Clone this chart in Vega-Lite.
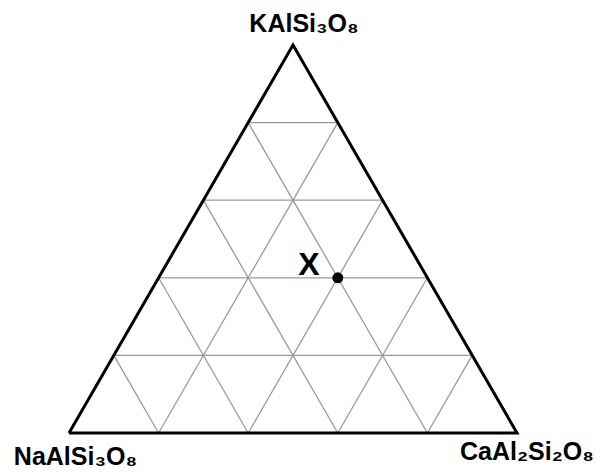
{
  "$schema": "https://vega.github.io/schema/vega-lite/v6.json",
  "width": 596,
  "height": 475,
  "autosize": "none",
  "padding": 0,
  "background": "white",
  "config": {"view": {"stroke": null}},
  "datasets": {
    "grid": [
      {"x": 0.1, "y": 0.2, "x2": 0.9, "y2": 0.2},
      {"x": 0.2, "y": 0.4, "x2": 0.8, "y2": 0.4},
      {"x": 0.3, "y": 0.6, "x2": 0.7, "y2": 0.6},
      {"x": 0.4, "y": 0.8, "x2": 0.6, "y2": 0.8},
      {"x": 0.2, "y": 0, "x2": 0.6, "y2": 0.8},
      {"x": 0.4, "y": 0, "x2": 0.7, "y2": 0.6},
      {"x": 0.6, "y": 0, "x2": 0.8, "y2": 0.4},
      {"x": 0.8, "y": 0, "x2": 0.9, "y2": 0.2},
      {"x": 0.8, "y": 0, "x2": 0.4, "y2": 0.8},
      {"x": 0.6, "y": 0, "x2": 0.3, "y2": 0.6},
      {"x": 0.4, "y": 0, "x2": 0.2, "y2": 0.4},
      {"x": 0.2, "y": 0, "x2": 0.1, "y2": 0.2}
    ],
    "edges": [
      {"i": 0, "x": 0, "y": 0},
      {"i": 1, "x": 1, "y": 0},
      {"i": 2, "x": 0.5, "y": 1},
      {"i": 3, "x": 0, "y": 0}
    ],
    "points": [
      {"x": 0.6, "y": 0.4, "name": "X"}
    ],
    "labels": [
      {"x": 0.5246, "y": 1.0335, "text": "KAlSi₃O₈"},
      {"x": 0.0145, "y": -0.0825, "text": "NaAlSi₃O₈"},
      {"x": 1.0223, "y": -0.0696, "text": "CaAl₂Si₂O₈"}
    ]
  },
  "layer": [
    {
      "data": {"name": "grid"},
      "mark": {"type": "rule", "color": "#9a9a9a", "strokeWidth": 1.3},
      "encoding": {
        "x": {"field": "x", "type": "quantitative", "scale": {"domain": [-0.15402, 1.17634], "nice": false, "zero": false}, "axis": null},
        "y": {"field": "y", "type": "quantitative", "scale": {"domain": [-0.10825, 1.11598], "nice": false, "zero": false}, "axis": null},
        "x2": {"field": "x2"},
        "y2": {"field": "y2"}
      }
    },
    {
      "data": {"name": "edges"},
      "mark": {"type": "line", "color": "black", "strokeWidth": 3, "strokeJoin": "miter"},
      "encoding": {
        "x": {"field": "x", "type": "quantitative"},
        "y": {"field": "y", "type": "quantitative"},
        "order": {"field": "i", "type": "quantitative"}
      }
    },
    {
      "data": {"name": "points"},
      "mark": {"type": "circle", "color": "black", "opacity": 1, "size": 120},
      "encoding": {
        "x": {"field": "x", "type": "quantitative"},
        "y": {"field": "y", "type": "quantitative"}
      }
    },
    {
      "data": {"name": "points"},
      "mark": {"type": "text", "font": "Liberation Sans", "fontWeight": "bold", "fontSize": 32, "align": "center", "baseline": "alphabetic", "dx": -29, "dy": -3, "color": "black"},
      "encoding": {
        "x": {"field": "x", "type": "quantitative"},
        "y": {"field": "y", "type": "quantitative"},
        "text": {"field": "name"}
      }
    },
    {
      "data": {"name": "labels"},
      "mark": {"type": "text", "font": "Liberation Sans", "fontWeight": "bold", "fontSize": 25, "align": "center", "baseline": "alphabetic", "color": "black"},
      "encoding": {
        "x": {"field": "x", "type": "quantitative"},
        "y": {"field": "y", "type": "quantitative"},
        "text": {"field": "text"}
      }
    }
  ]
}
